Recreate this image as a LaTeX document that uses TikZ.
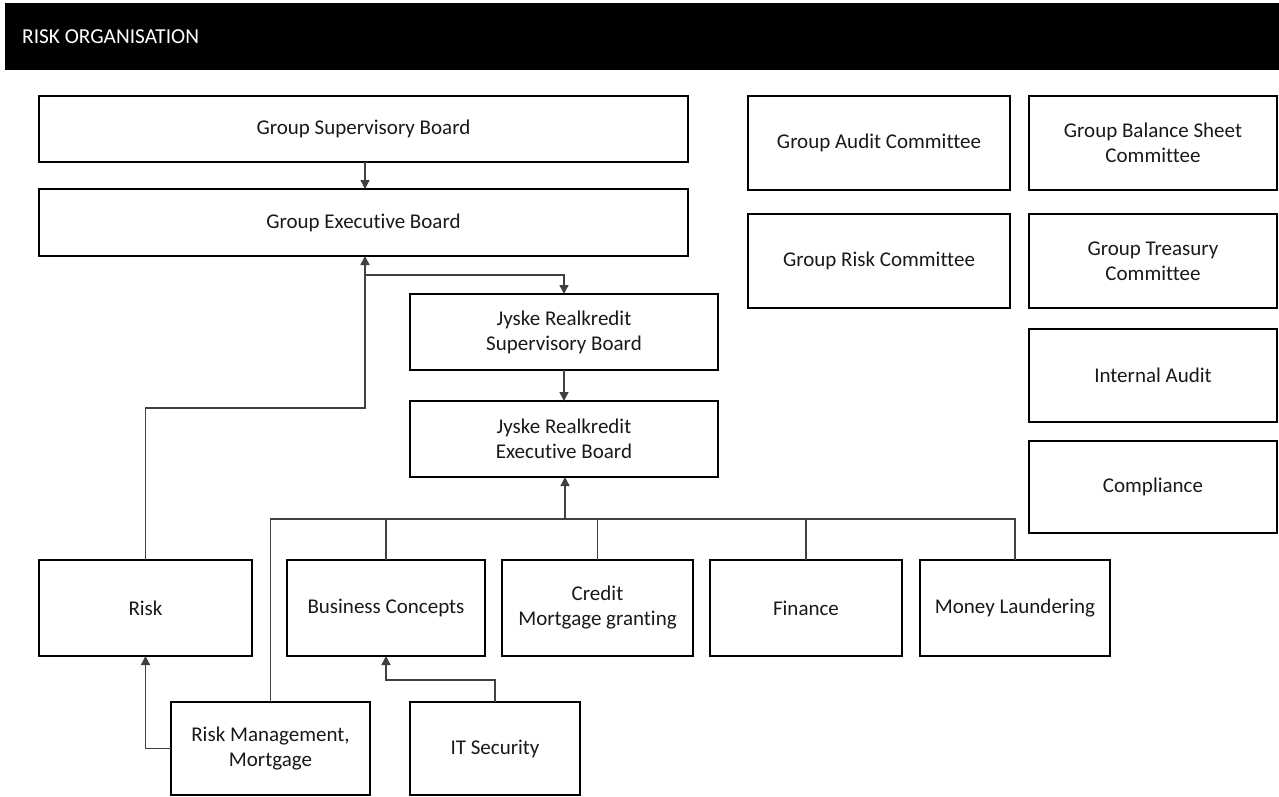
\documentclass[tikz,border=0pt]{standalone}
\usepackage{fontspec}
\setmainfont[Ligatures=NoCommon]{Carlito}
\usetikzlibrary{arrows.meta}
\begin{document}
\begin{tikzpicture}[x=1pt,y=-1pt,
  box/.style={draw=black, line width=2pt, inner sep=0pt, outer sep=0pt, align=center,
    font=\fontsize{21}{25}\selectfont, text=black!90},
  conn/.style={draw=black!75, line width=1.4pt},
  arr/.style={conn, -{Triangle[width=9pt,length=9pt]}}]
\useasboundingbox (0,0) rectangle (1279,796);
\fill[black] (5,3) rectangle (1279,70);
\node[anchor=west, text=white, font=\fontsize{21.3}{25}\selectfont, inner sep=0pt] (title) at (22,37) {RISK ORGANISATION};

\node[box, minimum width=649pt, minimum height=66pt] (gsb) at (363.5,129) {Group Supervisory Board};
\node[box, minimum width=649pt, minimum height=67pt] (geb) at (363.5,222.5) {Group Executive Board};
\node[box, minimum width=308pt, minimum height=76pt] (jrsb) at (564,332) {Jyske Realkredit\\Supervisory Board};
\node[box, minimum width=308pt, minimum height=76pt] (jreb) at (564,439) {Jyske Realkredit\\Executive Board};

\node[box, minimum width=213pt, minimum height=96pt] (risk) at (145.5,608) {Risk};
\node[box, minimum width=198pt, minimum height=96pt] (bc) at (386,608) {Business Concepts};
\node[box, minimum width=191pt, minimum height=96pt] (credit) at (597.5,608) {Credit\\Mortgage granting};
\node[box, minimum width=192pt, minimum height=96pt] (fin) at (806,608) {Finance};
\node[box, minimum width=190pt, minimum height=96pt] (ml) at (1015,608) {Money Laundering};

\node[box, minimum width=199pt, minimum height=93pt] (rmm) at (270.5,748.5) {Risk Management,\\Mortgage};
\node[box, minimum width=170pt, minimum height=93pt] (its) at (495,748.5) {IT Security};

\node[box, minimum width=262pt, minimum height=94pt] (gac) at (879,143) {Group Audit Committee};
\node[box, minimum width=248pt, minimum height=94pt] (gbsc) at (1153,143) {Group Balance Sheet\\Committee};
\node[box, minimum width=262pt, minimum height=94pt] (grc) at (879,261) {Group Risk Committee};
\node[box, minimum width=248pt, minimum height=94pt] (gtc) at (1153,261) {Group Treasury\\Committee};
\node[box, minimum width=248pt, minimum height=93pt] (ia) at (1153,375.5) {Internal Audit};
\node[box, minimum width=248pt, minimum height=92pt] (comp) at (1153,487) {Compliance};

\coordinate (j1) at (365,275);
\coordinate (j2) at (365,408);
\coordinate (bus) at (565,519);
\coordinate (j3) at (386,680);

\draw[arr] (gsb.south -| j1) -- (geb.north -| j1);
\draw[arr] (risk.north) |- (j2) -- (geb.south -| j2);
\draw[arr] (j1) -| (jrsb.north);
\draw[arr] (jrsb.south) -- (jreb.north);
\draw[arr] (bus) -- (jreb.south -| bus);
\draw[conn] (rmm.north) |- (ml.north |- bus) -- (ml.north);
\draw[conn] (bc.north) -- (bc.north |- bus);
\draw[conn] (credit.north) -- (credit.north |- bus);
\draw[conn] (fin.north) -- (fin.north |- bus);
\draw[arr] (rmm.west) -| (risk.south);
\draw[arr] (its.north) |- (j3) -- (bc.south);
\end{tikzpicture}
\end{document}
